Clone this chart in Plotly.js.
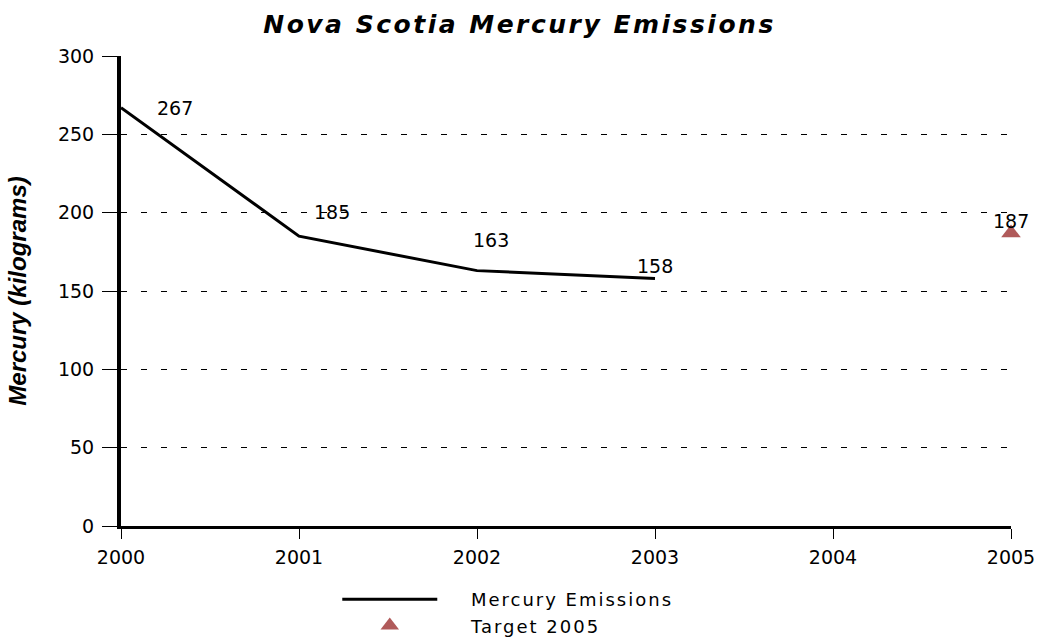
<!DOCTYPE html>
<html>
<head>
<meta charset="utf-8">
<script src="https://cdn.plot.ly/plotly-3.0.1.min.js"></script>
<style>
  html, body { margin: 0; padding: 0; background: #fff; }
  #chart { width: 1039px; height: 638px; }
</style>
</head>
<body>
<div id="chart"></div>
<script>
// Annual mercury emissions, Nova Scotia (kg)
const years = [2000, 2001, 2002, 2003];
const emissions = [267, 185, 163, 158];

// 2005 reduction target
const targetYears = [2005];
const targetValues = [187];

const xTicks = [2000, 2001, 2002, 2003, 2004, 2005];
const yTicks = [0, 50, 100, 150, 200, 250, 300];

// per-label offsets (px) so the value labels clear the line
const labelShifts = [[54, 0], [33, 24], [14, 31], [0, 12]];

const WIDE = 'DejaVu Sans, Verdana, sans-serif';
const ARIAL = 'Liberation Sans, Arial, sans-serif';
const GAP = '\u00a0\u00a0\u00a0\u00a0\u00a0';

// widen a label's letters a little
const spaced = (txt, px) => '<span style="letter-spacing:' + px + 'px">' + txt + '</span>';

const traces = [
  {
    x: years, y: emissions, name: GAP + spaced('Mercury Emissions', 2),
    type: 'scatter', mode: 'lines',
    line: { color: '#000000', width: 3 },
    cliponaxis: false
  },
  {
    x: targetYears, y: targetValues, name: GAP + spaced('Target 2005', 2),
    type: 'scatter', mode: 'markers',
    marker: { symbol: 'triangle-up', size: 17, color: '#b05a5a' },
    cliponaxis: false
  }
];

const annotations = [];
years.forEach((yr, i) => {
  annotations.push({
    x: yr, y: emissions[i], xref: 'x', yref: 'y',
    text: String(emissions[i]), showarrow: false,
    xshift: labelShifts[i][0], yshift: labelShifts[i][1],
    font: { family: WIDE, size: 19, color: '#000' }
  });
});
targetYears.forEach((yr, i) => {
  annotations.push({
    x: yr, y: targetValues[i], xref: 'x', yref: 'y',
    text: String(targetValues[i]), showarrow: false,
    yshift: 12,
    font: { family: WIDE, size: 19, color: '#000' }
  });
});

const layout = {
  width: 1039, height: 638,
  margin: { l: 121, r: 28, t: 56, b: 112, autoexpand: false },
  paper_bgcolor: '#ffffff', plot_bgcolor: '#ffffff',
  font: { family: WIDE, size: 18, color: '#000' },
  title: {
    text: '<b><i>' + spaced('Nova Scotia Mercury Emissions', 2.5) + '</i></b>',
    font: { family: WIDE, size: 25, color: '#000' },
    x: 0.5, xanchor: 'center', xref: 'container',
    y: 0.962, yanchor: 'middle', yref: 'container'
  },
  xaxis: {
    range: [2000, 2005],
    tickvals: xTicks, ticktext: xTicks.map(String),
    showgrid: false, zeroline: false,
    showline: true, linecolor: '#000', linewidth: 3,
    ticks: 'outside', ticklen: 10, tickwidth: 1, tickcolor: '#000',
    ticklabelstandoff: 2,
    tickfont: { family: WIDE, size: 19 },
    fixedrange: true
  },
  yaxis: {
    range: [0, 300],
    tickvals: yTicks, ticktext: yTicks.map(String),
    showgrid: true, gridcolor: '#000', gridwidth: 1, griddash: '6px,14px',
    zeroline: false,
    showline: true, linecolor: '#000', linewidth: 4,
    ticks: 'outside', ticklen: 15, tickwidth: 1, tickcolor: '#000',
    ticklabelstandoff: 4,
    tickfont: { family: WIDE, size: 19 },
    title: {
      text: '<b><i>Mercury (kilograms)</i></b>',
      font: { family: ARIAL, size: 24, color: '#000' },
      standoff: 26
    },
    fixedrange: true
  },
  showlegend: true,
  legend: {
    orientation: 'v',
    x: 0.243, xanchor: 'left',
    y: -0.117, yanchor: 'top',
    font: { family: WIDE, size: 18, color: '#000' },
    itemwidth: 95,
    bgcolor: 'rgba(0,0,0,0)'
  },
  annotations: annotations
};

Plotly.newPlot('chart', traces, layout, { displayModeBar: false, staticPlot: true });
</script>
</body>
</html>
